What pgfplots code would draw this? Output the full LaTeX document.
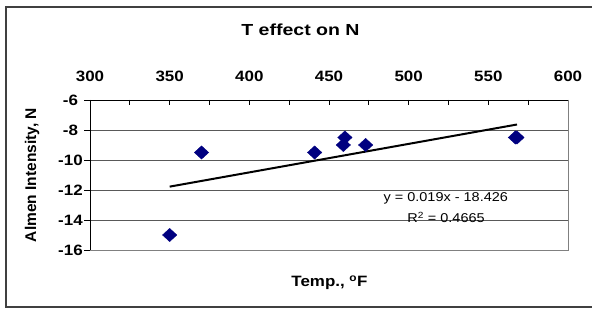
\documentclass[border=0pt]{standalone}
\usepackage{fontspec}
\setmainfont[FakeStretch=1.13]{Liberation Sans}
\newfontfamily\tfont[FakeStretch=1.22]{Liberation Sans}
\newfontfamily\vfont{Liberation Sans}
\usepackage{pgfplots}
\pgfplotsset{compat=1.18}
\definecolor{navy}{HTML}{000080}
\definecolor{frame}{HTML}{404040}
\begin{document}
\begin{tikzpicture}[x=1pt,y=1pt]
\useasboundingbox (0,0) rectangle (592,310);
\fill[white] (0,0) rectangle (592,310);
% outer chart frame (right edge lies outside the picture)
\draw[frame, line width=1.6pt] (600,303) -- (5.8,303) -- (5.8,3) -- (600,3);
\begin{axis}[
  at={(90pt,60pt)}, anchor=south west,
  scale only axis, width=478pt, height=150pt,
  xmin=300, xmax=600, ymin=-16, ymax=-6,
  axis x line*=top, axis y line*=left,
  axis line style={black, line width=0.8pt},
  xtick={300,350,...,600},
  minor xtick={325,375,...,575},
  ytick={-16,-14,...,-6},
  xtick align=inside, ytick align=outside,
  major tick length=5.5pt, minor tick length=5.5pt,
  tick style={black, line width=0.8pt},
  ymajorgrids,
  grid style={black!65, line width=0.8pt},
  /pgf/number format/assume math mode=true,
  ticklabel style={font=\fontsize{15}{16}\selectfont\bfseries},
  yticklabel style={anchor=center, xshift=-14pt},
  xticklabel style={anchor=base, yshift=18pt},
  after end axis/.code={
    \draw[black!50, line width=0.8pt] (rel axis cs:0,0) -- (rel axis cs:1,0) -- (rel axis cs:1,1);
  },
  clip=false,
]
\addplot[only marks, mark=diamond*, mark size=6.6pt,
  mark options={fill=navy, draw=navy, xscale=1.45}]
  coordinates {
    (350,-15) (370,-9.5) (441,-9.5) (459,-9) (460,-8.5)
    (473,-9) (567,-8.5) (568,-8.5)
  };
\addplot[black, line width=2pt] coordinates {(350,-11.776) (568,-7.634)};
\end{axis}
\node[font=\tfont\fontsize{16}{18}\selectfont\bfseries] at (300.5,280) {T effect on N};
\node[font=\vfont\fontsize{15.5}{17}\selectfont\bfseries, rotate=90] at (32,135) {Almen Intensity, N};
\node[font=\fontsize{15}{17}\selectfont\bfseries] at (329.5,27) {Temp., \textsuperscript{o}F};
\node[font=\fontsize{12.8}{15}\selectfont] at (445.8,111.7) {y = 0.019x - 18.426};
\node[font=\fontsize{12.8}{15}\selectfont] at (446,92.7) {R\textsuperscript{2} = 0.4665};
\end{tikzpicture}
\end{document}
